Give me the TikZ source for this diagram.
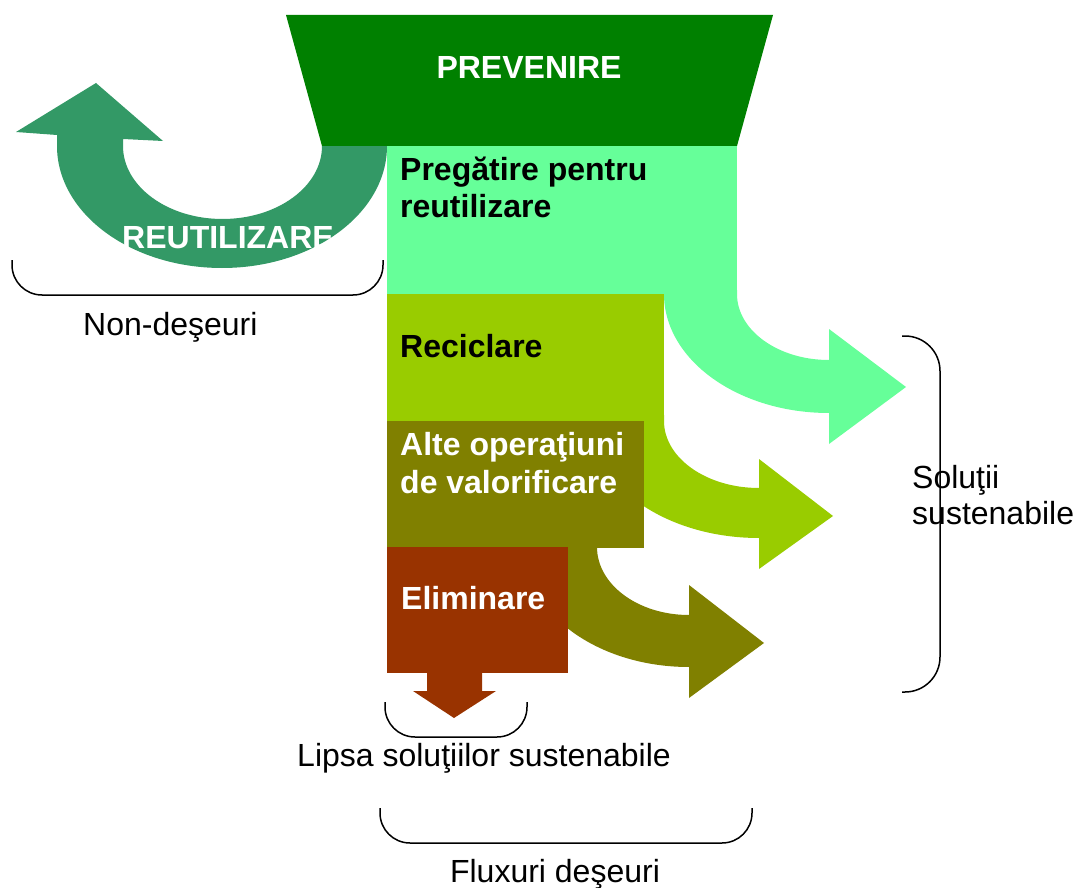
\documentclass[tikz,border=0pt]{standalone}
\usepackage{fontspec}
\setmainfont{Liberation Sans}
\definecolor{cPrev}{HTML}{008000}
\definecolor{cReuse}{HTML}{339966}
\definecolor{cPrep}{HTML}{66FF99}
\definecolor{cRecy}{HTML}{99CC00}
\definecolor{cAlte}{HTML}{808000}
\definecolor{cElim}{HTML}{993300}
\begin{document}
\begin{tikzpicture}[x=1pt,y=-1pt,
  lbl/.style={inner sep=0pt, anchor=base west, font=\fontsize{32}{38.4}\selectfont},
  blbl/.style={lbl, font=\fontsize{32}{38.4}\selectfont\bfseries},
  brace/.style={draw=black, line width=1.5pt, rounded corners=30pt},
  block/.style={rectangle, inner sep=0pt, anchor=north west}]
\useasboundingbox (0,0) rectangle (1077,888);

% reuse arrow
\fill[cReuse] (387,146) arc[start angle=0,end angle=180,x radius=165,y radius=122]
  -- (57,135) -- (16,132) -- (96,83) -- (163,141) -- (123,139) -- (123,146)
  arc[start angle=180,end angle=0,x radius=99.5,y radius=73] -- cycle;

% curved arrows
\fill[cPrep] (664,290) -- (664,294) arc[start angle=180,end angle=90,x radius=165,y radius=119]
  -- (829,444) -- (906,387) -- (829,329) -- (829,360)
  arc[start angle=90,end angle=180,x radius=92,y radius=66] -- (737,290) -- cycle;
\fill[cRecy] (591,421) arc[start angle=180,end angle=90,x radius=168,y radius=117]
  -- (759,569) -- (833,516) -- (759,459) -- (759,488)
  arc[start angle=90,end angle=180,x radius=95,y radius=67] -- (664,415) -- (591,415) -- cycle;
\fill[cAlte] (524,547) arc[start angle=180,end angle=90,x radius=165,y radius=120]
  -- (689,698) -- (764,643) -- (689,585) -- (689,615)
  arc[start angle=90,end angle=180,x radius=92,y radius=68] -- (597,540) -- (524,540) -- cycle;
% down arrow
\fill[cElim] (427,668) -- (427,691) -- (413,691) -- (454,718) -- (496,691) -- (482,691) -- (482,668) -- cycle;

% blocks
\node[block, fill=cPrep, minimum width=350pt, minimum height=149pt] (prep) at (387,146) {};
\node[block, fill=cRecy, minimum width=277pt, minimum height=128pt] (recy) at (387,294) {};
\node[block, fill=cAlte, minimum width=257pt, minimum height=127pt] (alte) at (387,421) {};
\node[block, fill=cElim, minimum width=181pt, minimum height=126pt] (elim) at (387,547) {};

% prevenire trapezoid
\fill[cPrev] (286,15) -- (773,15) -- (737,146) -- (322,146) -- cycle;

% texts
\node[blbl, anchor=base, text=white] (tprev) at (529,79) {PREVENIRE};
\node[blbl, anchor=base, text=white] (treuse) at (228,248) {REUTILIZARE};
\node[blbl] (tprep1) at (400,181) {Pregătire pentru};
\node[blbl] (tprep2) at (400,218) {reutilizare};
\node[blbl] (trecy) at (400,357) {Reciclare};
\node[blbl, text=white] (talte1) at (400,455) {Alte operaţiuni};
\node[blbl, text=white] (talte2) at (400,493) {de valorificare};
\node[blbl, text=white] (telim) at (401,609) {Eliminare};

\node[lbl] (tnon) at (83,335) {Non-deşeuri};
\node[lbl, anchor=base] (tlipsa) at (484,766) {Lipsa soluţiilor sustenabile};
\node[lbl, anchor=base] (tflux) at (555,882) {Fluxuri deşeuri};
\node[lbl] (tsol1) at (912,488) {Soluţii};
\node[lbl] (tsol2) at (912,524) {sustenabile};

% brackets
\draw[brace] (12,260) -- (12,295) -- (383,295) -- (383,260);
\draw[brace] (385,702) -- (385,737) -- (527,737) -- (527,702);
\draw[brace] (380,808) -- (380,843) -- (752,843) -- (752,808);
\draw[brace, rounded corners=35pt] (902,336) -- (940,336) -- (940,692) -- (902,692);
\end{tikzpicture}
\end{document}
